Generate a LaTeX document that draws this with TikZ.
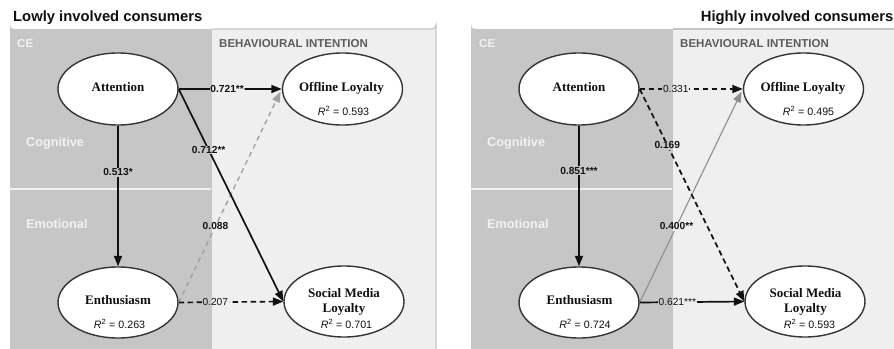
\documentclass[tikz,border=0pt]{standalone}
\usepackage{fontspec}
\setmainfont{Liberation Serif}
\setsansfont{Liberation Sans}
\usetikzlibrary{shapes.geometric,arrows.meta}

\definecolor{cebg}{HTML}{C6C6C6}
\definecolor{bibg}{HTML}{EFEFEF}
\definecolor{biedge}{HTML}{C6C6C6}
\definecolor{headgrey}{HTML}{5C5C5C}
\definecolor{ink}{HTML}{111111}
\definecolor{palegrey}{HTML}{A2A2A2}
\definecolor{midgrey}{HTML}{8E8E8E}
\definecolor{divwhite}{HTML}{F2F2F2}

\tikzset{
  construct/.style={ellipse, draw=ink!85, line width=1.4pt, fill=white,
    minimum width=120pt, minimum height=72pt, inner sep=0pt},
  cname/.style={font=\fontsize{13}{15}\selectfont\bfseries, text=ink,
    anchor=base, inner sep=0pt},
  rsq/.style={font=\sffamily\fontsize{10.7}{12}\selectfont, text=ink,
    anchor=base, inner sep=0pt},
  paneltitle/.style={font=\sffamily\bfseries\fontsize{14.8}{16}\selectfont,
    text=ink, inner sep=0pt},
  blockhead/.style={font=\sffamily\bfseries\fontsize{11.5}{13}\selectfont,
    anchor=base west, inner sep=0pt},
  subhead/.style={font=\sffamily\bfseries\fontsize{12.7}{14}\selectfont,
    text=divwhite, anchor=base west, inner sep=0pt},
  tip/.style={-{Triangle[length=10.5pt,width=8pt]}},
  sig/.style={tip, draw=ink, line width=1.7pt},
  nsig/.style={tip, draw=ink, line width=1.7pt, dash pattern=on 5.5pt off 3.5pt},
  paledash/.style={tip, draw=palegrey, line width=1.4pt, dash pattern=on 5pt off 4pt},
  greysolid/.style={tip, draw=midgrey, line width=1.1pt},
  % coefficient label: its backdrop repeats the two block colours,
  % split at the block boundary given as #1
  coefbase/.style={text=ink, inner sep=0.8pt,
    path picture={
      \fill[bibg] (path picture bounding box.south west)
        rectangle (path picture bounding box.north east);
      \fill[cebg] (path picture bounding box.south west)
        rectangle (path picture bounding box.north east -| #1);
    }},
  coef/.style={coefbase=#1, font=\sffamily\bfseries\fontsize{10.2}{12}\selectfont},
  coefthin/.style={coefbase=#1, font=\sffamily\fontsize{10.2}{12}\selectfont},
}

\begin{document}
\begin{tikzpicture}[x=1pt,y=-1pt]
\fill[white] (0,0) rectangle (894,348);
\useasboundingbox (0,0) rectangle (894,348);

% ---------- blocks, low involvement ----------
\fill[cebg] (212,360) -- (212,29) -- (14,29)
  arc[start angle=90,end angle=180,radius=4] -- (10,360) -- cycle;
\fill[bibg] (212,360) -- (212,29) -- (432,29)
  arc[start angle=90,end angle=0,radius=4] -- (436,360) -- cycle;
\draw[biedge, line width=1.3pt] (212,29) -- (432,29)
  arc[start angle=90,end angle=0,radius=4] -- (436,360);
\draw[divwhite, line width=1.2pt] (10,189) -- (211,189);
\coordinate (divL) at (212,0);

% ---------- blocks, high involvement ----------
\fill[cebg] (673,360) -- (673,29) -- (475,29)
  arc[start angle=90,end angle=180,radius=4] -- (471,360) -- cycle;
\fill[bibg] (673,360) -- (673,29) -- (900,29) -- (900,360) -- cycle;
\draw[biedge, line width=1.3pt] (673,29) -- (900,29);
\draw[divwhite, line width=1.2pt] (471,189) -- (672,189);
\coordinate (divH) at (673,0);

% ---------- headings ----------
\node[paneltitle, anchor=base west] (titleL) at (13,21) {Lowly involved consumers};
\node[paneltitle, anchor=base east] (titleH) at (893.5,21) {Highly involved consumers};

\node[blockhead, text=divwhite] (ceL) at (17,47) {CE};
\node[blockhead, text=headgrey] (biL) at (219,47) {BEHAVIOURAL INTENTION};
\node[subhead] (cogL) at (26,146) {Cognitive};
\node[subhead] (emoL) at (26,228) {Emotional};

\node[blockhead, text=divwhite] (ceH) at (479,47) {CE};
\node[blockhead, text=headgrey] (biH) at (680,47) {BEHAVIOURAL INTENTION};
\node[subhead] (cogH) at (487,146) {Cognitive};
\node[subhead] (emoH) at (487,228) {Emotional};

% ---------- constructs, low involvement ----------
\node[construct] (attL) at (118,89) {};
\node[construct] (offL) at (342.5,89) {};
\node[construct, minimum height=71pt] (entL) at (118,302.5) {};
\node[construct, minimum height=71pt] (smlL) at (344,301.5) {};

\node[cname] (attLt) at (118,91) {Attention};
\node[cname] (offLt) at (341.5,91) {Offline Loyalty};
\node[rsq] (offLr) at (343.5,115) {\textit{R}\textsuperscript{2} = 0.593};
\node[cname] (entLt) at (118,304) {Enthusiasm};
\node[rsq] (entLr) at (119.5,328) {\textit{R}\textsuperscript{2} = 0.263};
\node[cname] (smlLt) at (344,297.3) {Social Media};
\node[cname] (smlLt2) at (344,312) {Loyalty};
\node[rsq] (smlLr) at (346.5,328) {\textit{R}\textsuperscript{2} = 0.701};

% ---------- constructs, high involvement ----------
\node[construct] (attH) at (579,89) {};
\node[construct] (offH) at (803.5,89) {};
\node[construct, minimum height=71pt] (entH) at (579,302.5) {};
\node[construct, minimum height=71pt] (smlH) at (805,301.5) {};

\node[cname] (attHt) at (579,91) {Attention};
\node[cname] (offHt) at (803,91) {Offline Loyalty};
\node[rsq] (offHr) at (808.5,115) {\textit{R}\textsuperscript{2} = 0.495};
\node[cname] (entHt) at (579.5,304) {Enthusiasm};
\node[rsq] (entHr) at (585,328) {\textit{R}\textsuperscript{2} = 0.724};
\node[cname] (smlHt) at (805.5,297.3) {Social Media};
\node[cname] (smlHt2) at (805.5,312) {Loyalty};
\node[rsq] (smlHr) at (809.5,328) {\textit{R}\textsuperscript{2} = 0.593};

% ---------- paths, low involvement ----------
\draw[paledash, shorten >=3pt] (entL.east) --
  node[coef=divL, pos=0.357] (c4L) {0.088} (offL.west);
\draw[nsig] (entL.east) --
  node[coefthin=divL, pos=0.35] (c5L) {0.207} (smlL.west);
\draw[sig] (attL.east) --
  node[coef=divL, pos=0.47] (c1L) {0.721**} (offL.west);
\draw[sig] (attL.east) --
  node[coef=divL, pos=0.287] (c2L) {0.712**} (smlL.west);
\draw[sig] (attL.south) --
  node[coef=divL, pos=0.33] (c3L) {0.513*} (entL.north);

% ---------- paths, high involvement ----------
\draw[greysolid, shorten >=3pt] (entH.east) --
  node[coef=divH, pos=0.357] (c4H) {0.400**} (offH.west);
\draw[nsig] (attH.east) --
  node[coefthin=divH, pos=0.35] (c1H) {0.331} (offH.west);
\draw[nsig] (attH.east) --
  node[coef=divH, pos=0.264] (c2H) {0.169} (smlH.west);
\draw[sig] (attH.south) --
  node[coef=divH, pos=0.32] (c3H) {0.851***} (entH.north);
\draw[sig] (entH.east) --
  node[coefthin=divH, pos=0.36] (c5H) {0.621***} (smlH.west);
\end{tikzpicture}
\end{document}
